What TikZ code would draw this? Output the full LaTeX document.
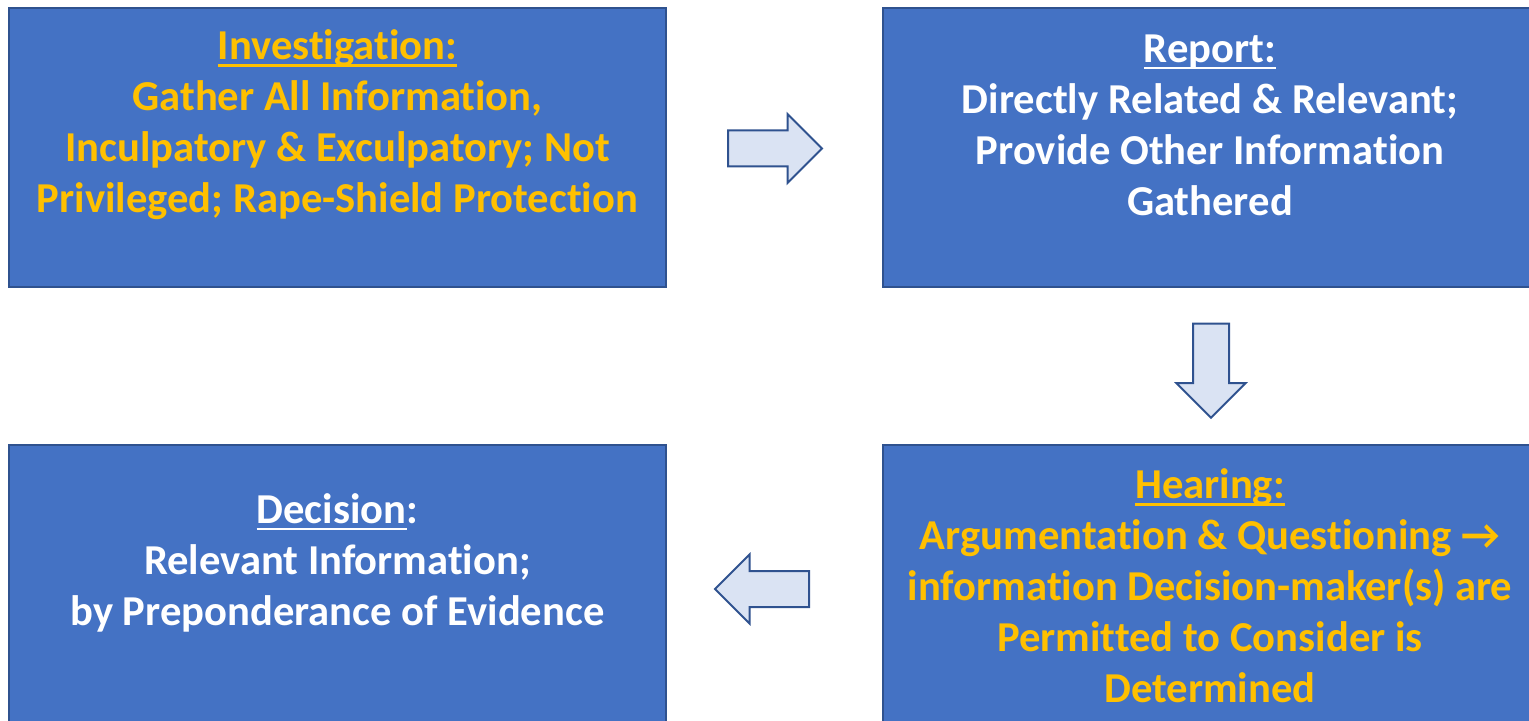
\documentclass[tikz,border=0pt]{standalone}
\usepackage{fontspec}
\setmainfont[Ligatures=NoCommon]{Carlito}
\usepackage{xcolor}
\usetikzlibrary{shapes.arrows}
\definecolor{boxblue}{HTML}{4472C4}
\definecolor{boxedge}{HTML}{2F528F}
\definecolor{arrowfill}{HTML}{DAE3F3}
\definecolor{gold}{HTML}{FFC000}
\tikzset{
stage/.style={
  rectangle,
  draw=boxedge,
  line width=0.8pt,
  fill=boxblue,
  inner sep=0pt,
  minimum height=139.5pt
},
stagetext/.style={
  align=center,
  inner sep=0pt,
  font=\bfseries\fontsize{21.3}{25.5}\selectfont
},
flow/.style={
  single arrow,
  draw=boxedge,
  line width=1pt,
  fill=arrowfill,
  inner xsep=0pt,
  inner ysep=8.5pt,
  single arrow head extend=8.25pt,
  minimum height=47pt,
  anchor=tail
},
}
\newcommand{\stageul}[1]{\setbox0\hbox{#1}\rlap{\rule[-3.6pt]{\wd0}{1.3pt}}\box0}

\begin{document}
\begin{tikzpicture}[x=0.5pt,y=-0.5pt]
\useasboundingbox (0,0) rectangle (1529,721);
\clip (0,0) rectangle (1529,721);
% the boxes
\node (inv) [stage,minimum width=328.5pt] at (337.5,147.5) {};
\node (rep) [stage,minimum width=327pt] at (1210,147.5) {};
\node (hear) [stage,minimum width=327pt] at (1210,584.5) {};
\node (dec) [stage,minimum width=328.5pt] at (337.5,584.5) {};
% the texts
\node (invtext) [stagetext,text=gold] at (337.5,125)
  {\stageul{Investigation:}\\Gather All Information,\\Inculpatory \& Exculpatory; Not\\Privileged; Rape-Shield Protection};
\node (reptext) [stagetext,text=white] at (1210,125)
  {\stageul{Report:}\\Directly Related \& Relevant;\\Provide Other Information\\Gathered};
\node (heartext) [stagetext,text=gold] at (1210,586)
  {\stageul{Hearing:}\\Argumentation \& Questioning →\\information Decision-maker(s) are\\Permitted to Consider is\\Determined};
\node (dectext) [stagetext,text=white] at (337.5,562.5)
  {\stageul{Decision}:\\Relevant Information;\\by Preponderance of Evidence};
% the arrows
\node (invrep) [flow] at (727,148.5) {};
\node (rephear) [flow,shape border rotate=270,inner xsep=8.5pt,inner ysep=0pt] at (1211,322.7) {};
\node (heardec) [flow,shape border rotate=180] at (810,589) {};
\end{tikzpicture}
\end{document}
